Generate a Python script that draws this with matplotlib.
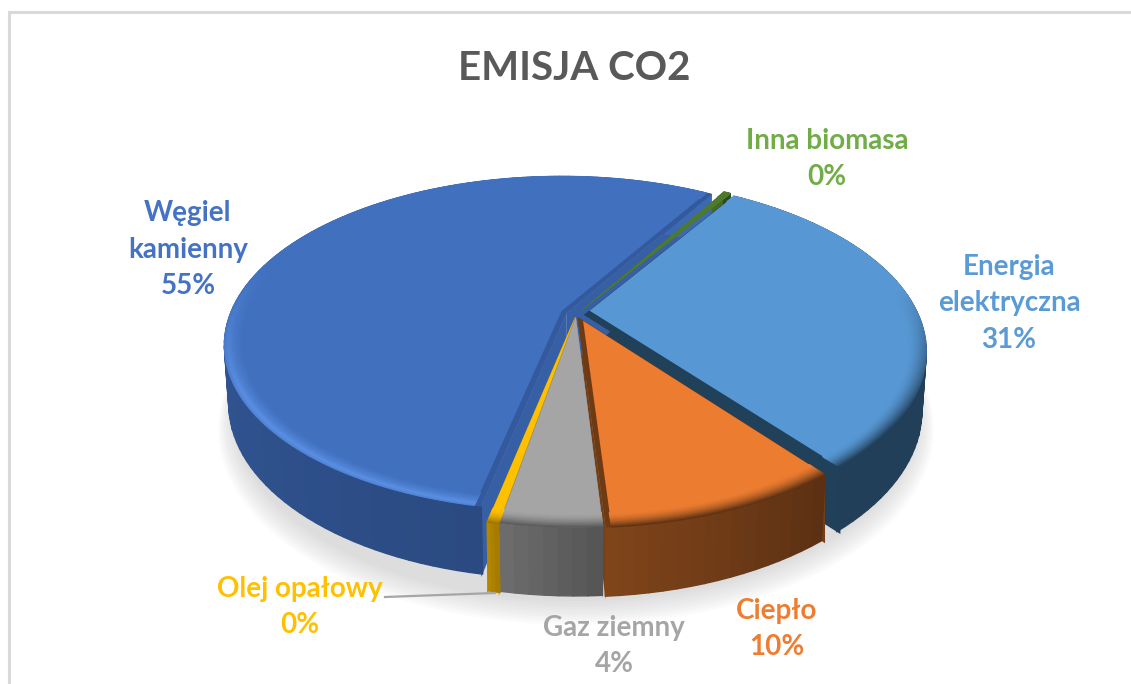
import numpy as np
import matplotlib
matplotlib.use("Agg")
import matplotlib.pyplot as plt
from matplotlib.collections import PolyCollection
from matplotlib.colors import to_rgb

# values in drawing order, clockwise from the top right
names = ["Inna biomasa", "Energia\nelektryczna", "Ciep\u0142o", "Gaz ziemny", "Olej opa\u0142owy", "W\u0119giel\nkamienny"]
values = [0.4, 30.55, 9.5, 3.9, 0.45, 55.2]

top_colors = ["#4E7A2E", "#5797D3", "#EC7C30", "#A5A5A5", "#FFC000", "#4070BE"]
bevel_colors = ["#4E7A2E", "#21405A", "#6E3A14", "#8C8C8C", "#C99700", "#33599E"]
rim_colors = ["#2F4A1C", "#21405A", "#5E3214", "#5A5A5A", "#9A7400", "#5C90E4"]
side_left = ["#2F4A1C", "#213F58", "#7F441A", "#6C6C6C", "#B38600", "#3C6AB2"]
side_right = ["#2F4A1C", "#213F58", "#5C3113", "#565656", "#A67C00", "#2B4A82"]
label_colors = ["#70AD47", "#5B9BD5", "#ED7D31", "#A5A5A5", "#FFC000", "#4472C4"]
explode = [0.028, 0.025, 0.016, 0.012, 0.016, 0.030]
inset_a = [0, 0, 0, 0, 0, 0.018]
inset_b = [0, 0.028, 0.014, 0, 0, 0.020]
wall_trim = [0, 0.032, 0, 0, 0, 0]
# the big slice sits a little off the common circle
arc_shift = [(0, 0), (0, 0), (0, 0), (0, 0), (0, 0), (-0.025, 0.025)]
arc_radius = [1, 1, 1, 1, 1, 0.984]

start_angle = 59.3
cx, cy, rx, ry, k = 576.0, 315.0, 334.0, 165.0, 0.21
height = 57.0
label_x = [827, 1009, 777, 614, 300, 188]
label_y = [159, 303, 629, 646, 607, 250]


def project(u, v, drop=0.0, s=1.0):
    u, v = np.asarray(u) * s, np.asarray(v) * s
    w = 1 + k * v
    return cx + rx * u / w, cy - ry * v / w + drop / w


def mix(a, b, t):
    a, b = np.array(to_rgb(a)), np.array(to_rgb(b))
    return tuple(a + (b - a) * t)


fig = plt.figure(figsize=(11.31, 6.84), dpi=100)
ax = fig.add_axes([0, 0, 1, 1])
ax.set_xlim(0, 1131)
ax.set_ylim(684, 0)
ax.axis("off")

# frame of the screenshot
ax.plot([9, 9, 1131], [684, 12, 12], color="#D9D9D9", lw=2.2, solid_joinstyle="miter")

# soft shadow below the pie
circle = np.radians(np.linspace(0, 360, 240))
for i in range(10):
    sx, sy = project(np.cos(circle), np.sin(circle), height + 4, 1.0 + 0.005 * i)
    ax.fill(sx, sy + 1.2 * i, color="#707070", alpha=0.022, lw=0, zorder=1)

edges = start_angle - np.cumsum([0] + values) * 3.6
slices = []
for i in range(len(values)):
    t1, t2 = edges[i], edges[i + 1]
    mid = np.radians((t1 + t2) / 2)
    slices.append((np.radians(t1), np.radians(t2), explode[i] * np.cos(mid), explode[i] * np.sin(mid)))


def rim(i, t, scale=1.0):
    # ray from the slice apex along angle t, up to the slice's own arc
    t1, t2, ex, ey = slices[i]
    dx, dy = np.cos(t), np.sin(t)
    ox, oy = -arc_shift[i][0], -arc_shift[i][1]
    b = ox * dx + oy * dy
    c = ox * ox + oy * oy - arc_radius[i] ** 2
    s = -b + np.sqrt(b * b - c)
    return ex + scale * s * dx, ey + scale * s * dy


# cut faces first, the outer wall covers what should not show
for i, (t1, t2, ex, ey) in enumerate(slices):
    for t in (t1, t2 + wall_trim[i]):
        ru, rv = rim(i, t)
        u = np.array([ex, ru, ru, ex])
        v = np.array([ey, rv, rv, ey])
        d = np.array([0, 0, height, height])
        w = 1 + k * v
        ax.fill(cx + rx * u / w, cy - ry * v / w + d / w, color=mix(bevel_colors[i], side_left[i], 0.35), lw=0, zorder=2)

# outer wall as thin strips so it can carry a gradient
for i, (t1, t2, ex, ey) in enumerate(slices):
    n = max(int((t1 - t2) * 30), 3)
    ts = np.linspace(t2 + wall_trim[i], t1, n + 1)
    u, v = rim(i, ts)
    xt, yt = project(u, v)
    xb, yb = project(u, v, height, 0.988)
    polys, cols = [], []
    for j in range(n):
        polys.append([(xt[j], yt[j]), (xt[j + 1], yt[j + 1]), (xb[j + 1], yb[j + 1]), (xb[j], yb[j])])
        cols.append(mix(side_left[i], side_right[i], j / max(n - 1, 1)))
    ax.add_collection(PolyCollection(polys, facecolors=cols, edgecolors=cols, linewidths=1.0, zorder=3))

# top faces: bevel colour underneath, flat colour inset on it
for i, (t1, t2, ex, ey) in enumerate(slices):
    ts = np.linspace(t1, t2, max(int((t1 - t2) * 60), 3))
    ru, rv = rim(i, ts)
    px, py = project(np.r_[ex, ru], np.r_[ey, rv])
    ax.fill(px, py, color=bevel_colors[i], lw=0.4, zorder=4)

    d1, d2 = inset_a[i], inset_b[i]
    n_mat = np.array([[np.sin(t1), -np.cos(t1)], [-np.sin(t2), np.cos(t2)]])
    ax_, ay_ = np.linalg.solve(n_mat, [d1, d2])
    ti = np.linspace(t1 - d1, t2 + d2, max(int((t1 - t2) * 60), 3))
    ru, rv = rim(i, ti)
    px, py = project(np.r_[ex + ax_, ru], np.r_[ey + ay_, rv])
    ax.fill(px, py, color=top_colors[i], lw=0, zorder=5)

    # shaded rim along the front edge
    radii = np.linspace(1.0, 0.945, 15)
    polys, cols = [], []
    for a in range(len(radii) - 1):
        p = a / (len(radii) - 2)
        fade = (1 - p) ** 1.6
        if i == 5:
            fade = np.interp(p, [0, 0.2, 0.5, 1], [0.55, 1.0, 0.5, 0.0])
        for j in range(len(ti) - 1):
            tm = (ti[j] + ti[j + 1]) / 2
            front = np.clip((0.4 if i == 5 else 0.2) - 1.3 * np.sin(tm), 0, 1)
            pts = [rim(i, ti[j], radii[a]), rim(i, ti[j + 1], radii[a]),
                   rim(i, ti[j + 1], radii[a + 1]), rim(i, ti[j], radii[a + 1])]
            qx, qy = project([q[0] for q in pts], [q[1] for q in pts])
            polys.append(list(zip(qx, qy)))
            cols.append(mix(top_colors[i], rim_colors[i], fade * front))
    ax.add_collection(PolyCollection(polys, facecolors=cols, edgecolors=cols, linewidths=0.8, zorder=6))

# leader line of the smallest label
ax.plot([385, 495], [597, 593], color="#A6A6A6", lw=1.6, zorder=7)

font = "Lato"
ax.text(574, 68, "EMISJA CO2", ha="center", va="center", fontsize=29, fontweight="bold",
        family=font, color="#595959")
for name, val, col, lx, ly in zip(names, values, label_colors, label_x, label_y):
    ax.text(lx, ly, f"{name}\n{round(val)}%", ha="center", va="center",
            fontsize=20, fontweight="bold", family=font, color=col, linespacing=1.5, zorder=8)

fig.savefig("out.png", dpi=100, facecolor="white")
